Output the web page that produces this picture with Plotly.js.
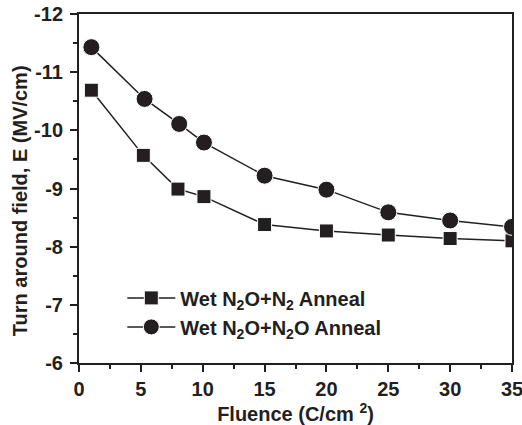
<!DOCTYPE html>
<html>
<head>
<meta charset="utf-8">
<script src="https://cdn.plot.ly/plotly-3.0.1.min.js"></script>
<style>html,body{margin:0;padding:0;background:#fff;}#chart{width:522px;height:425px;}</style>
</head>
<body>
<div id="chart"></div>
<script>
const fluenceN2 = [1, 5.2, 8.0, 10.1, 15, 20, 25, 30, 35];
const fieldN2 = [-10.69, -9.57, -8.99, -8.86, -8.38, -8.27, -8.20, -8.14, -8.10];
const fluenceN2O = [1, 5.3, 8.1, 10.1, 15, 20, 25, 30, 35];
const fieldN2O = [-11.43, -10.54, -10.11, -9.79, -9.22, -8.98, -8.59, -8.45, -8.34];
const nameN2 = '<b>Wet N<sub>2</sub>O+N<sub>2</sub> Anneal</b>';
const nameN2O = '<b>Wet N<sub>2</sub>O+N<sub>2</sub>O Anneal</b>';
const yTickVals = [-6, -7, -8, -9, -10, -11, -12];
const yTickText = ['<b>-6</b>', '<b>-7</b>', '<b>-8</b>', '<b>-9</b>', '<b>-10</b>', '<b>-11</b>', '<b>-12</b>'];
const xTickVals = [0, 5, 10, 15, 20, 25, 30, 35];
const xTickText = ['<b>0</b>', '<b>5</b>', '<b>10</b>', '<b>15</b>', '<b>20</b>', '<b>25</b>', '<b>30</b>', '<b>35</b>'];
const xTitle = '<b>Fluence (C/cm <sup>2</sup>)</b>';
const yTitle = '<b>Turn around field, E (MV/cm)</b>';

const fam = 'Liberation Sans, Arial, sans-serif';
const ink = '#231f20';
const traces = [
  {x: fluenceN2, y: fieldN2, name: nameN2, type: 'scatter', mode: 'lines+markers',
   line: {color: ink, width: 1.5},
   marker: {symbol: 'square', size: 14, color: ink, line: {color: '#ffffff', width: 1}}},
  {x: fluenceN2O, y: fieldN2O, name: nameN2O, type: 'scatter', mode: 'lines+markers',
   line: {color: ink, width: 1.5},
   marker: {symbol: 'circle', size: 17, color: ink, line: {color: '#ffffff', width: 1}}}
];
const layout = {
  width: 522, height: 425,
  margin: {l: 79, r: 10, t: 14, b: 62},
  paper_bgcolor: '#fff', plot_bgcolor: '#fff',
  font: {family: fam, size: 20, color: ink},
  showlegend: true,
  legend: {x: 0.1, y: 0.145, xanchor: 'left', yanchor: 'middle', bgcolor: 'rgba(0,0,0,0)',
           itemwidth: 48,
           font: {family: fam, size: 20, color: ink}, tracegroupgap: 0},
  xaxis: {range: [0, 35], tickvals: xTickVals, ticktext: xTickText, ticks: 'outside', ticklen: 7, tickwidth: 2,
          tickcolor: ink, showline: true, linewidth: 2, linecolor: ink, mirror: true,
          showgrid: false, zeroline: false, ticklabeloverflow: 'allow',
          tickfont: {family: fam, size: 20, color: ink},
          minor: {dtick: 2.5, tick0: 0, ticks: 'outside', ticklen: 4, tickwidth: 2, tickcolor: ink, showgrid: false},
          title: {text: xTitle, standoff: 4,
                  font: {family: fam, size: 20, color: ink}}},
  yaxis: {range: [-6, -12], tickvals: yTickVals, ticktext: yTickText, ticks: 'outside', ticklen: 7, tickwidth: 2,
          tickcolor: ink, showline: true, linewidth: 2, linecolor: ink, mirror: true,
          showgrid: false, zeroline: false, ticklabeloverflow: 'allow', ticklabelstandoff: 3,
          tickfont: {family: fam, size: 20, color: ink},
          minor: {dtick: 0.5, tick0: -6, ticks: 'outside', ticklen: 4, tickwidth: 2, tickcolor: ink, showgrid: false}},
  annotations: [{text: yTitle, xref: 'paper', yref: 'paper', x: -0.136, y: 0.464, textangle: -90,
                 showarrow: false, xanchor: 'center', yanchor: 'middle',
                 font: {family: fam, size: 20, color: ink}}]
};
Plotly.newPlot('chart', traces, layout, {displayModeBar: false, staticPlot: true});
</script>
</body>
</html>
